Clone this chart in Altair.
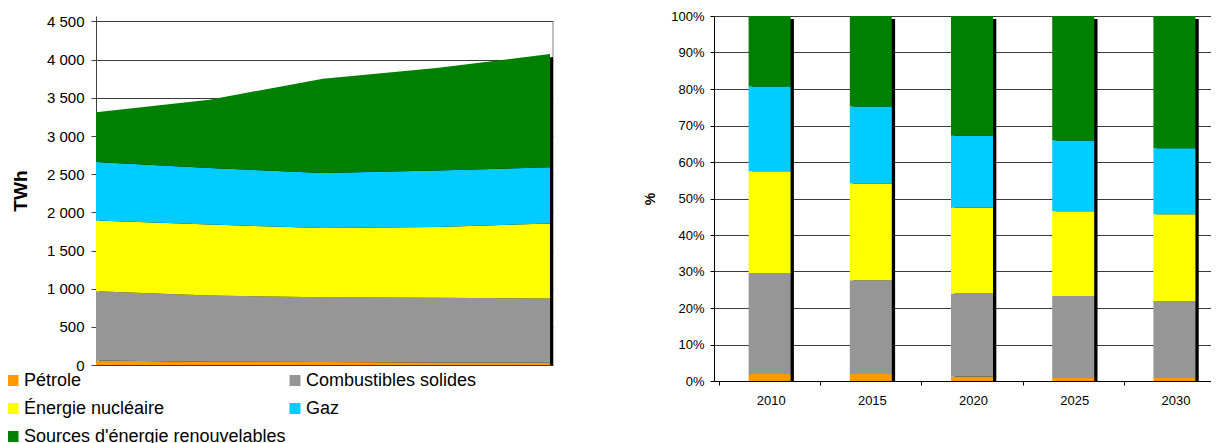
import altair as alt
import pandas as pd

years = [2010, 2015, 2020, 2025, 2030]
sources = ["Pétrole", "Combustibles solides", "Énergie nucléaire", "Gaz",
           "Sources d'énergie renouvelables"]
colors = ["#FF9900", "#969696", "#FFFF00", "#00CCFF", "#008000"]

# Left chart: production in TWh (stacked layers)
twh_petrole = [60, 45, 40, 35, 32]
twh_solides = [907, 866, 849, 846, 840]
twh_nucleaire = [926, 929, 908, 929, 981]
twh_gaz = [768, 742, 720, 737, 737]
twh_renouv = [649, 894, 1234, 1344, 1484]

# Right chart: shares in %
pct_petrole = [1.9, 1.9, 1.2, 0.8, 0.8]
pct_solides = [27.7, 25.7, 22.8, 22.5, 21.1]
pct_nucleaire = [27.9, 26.5, 23.5, 23.2, 23.8]
pct_gaz = [23.2, 21.1, 19.7, 19.4, 18.1]
pct_renouv = [19.3, 24.8, 32.8, 34.1, 36.2]

twh_ticks = list(range(0, 4501, 500))
pct_ticks = list(range(0, 101, 10))

twh_series = [twh_petrole, twh_solides, twh_nucleaire, twh_gaz, twh_renouv]
pct_series = [pct_petrole, pct_solides, pct_nucleaire, pct_gaz, pct_renouv]

rows_twh, rows_pct = [], []
for i, s in enumerate(sources):
    for j, y in enumerate(years):
        rows_twh.append({"year": y, "source": s, "idx": i, "v": twh_series[i][j]})
        rows_pct.append({"year": y, "source": s, "idx": i, "v": pct_series[i][j]})
df_twh = pd.DataFrame(rows_twh)
df_pct = pd.DataFrame(rows_pct)
df_twh_tot = df_twh.groupby("year", as_index=False)["v"].sum()
df_pct_tot = df_pct.groupby("year", as_index=False)["v"].sum()
df_frame = pd.DataFrame({"v": [max(twh_ticks)], "b": [0]})

FONT = "Liberation Sans"
# legend fills column by column: order entries so rows read like the reference
legend_order = [0, 2, 4, 1, 3]
color_scale = alt.Scale(domain=[sources[k] for k in legend_order],
                        range=[colors[k] for k in legend_order])

# ---------------- left chart ----------------
LEFT_H = 349.1
xl = alt.X("year:Q", scale=alt.Scale(domain=[2010, 2030.13], nice=False, zero=False), axis=None)
yl_scale = alt.Scale(domain=[0, 4572], nice=False)
yl_axis = alt.Axis(
    values=twh_ticks,
    labelExpr="replace(format(datum.value, ','), ',', ' ')",
    title="TWh", titleFontSize=19, titleFontWeight="bold", titlePadding=16,
    labelFontSize=15, labelPadding=7, tickSize=5,
    grid=True, gridColor="#3a3a3a", gridWidth=1,
    domainColor="#404040", tickColor="#404040",
)

left_frame = alt.Chart(df_frame).mark_rule(color="#808080").encode(
    x=alt.value(457),
    y=alt.Y("v:Q", scale=yl_scale, axis=yl_axis, title="TWh"),
    y2=alt.Y2("b:Q"),
)
left_shadow = alt.Chart(df_twh_tot).mark_area(color="black", xOffset=3, yOffset=3).encode(
    x=xl,
    y=alt.Y("v:Q", scale=yl_scale, axis=yl_axis, title="TWh"),
    y2=alt.datum(0),
)
left_area = alt.Chart(df_twh).mark_area(opacity=1).encode(
    x=xl,
    y=alt.Y("v:Q", stack="zero", scale=yl_scale, axis=yl_axis, title="TWh"),
    color=alt.Color("source:N", scale=color_scale,
                    legend=alt.Legend(
                        title=None, orient="none", legendX=-92, legendY=355.5,
                        columns=2, columnPadding=0, rowPadding=10,
                        symbolType="square", symbolSize=121, symbolStrokeWidth=0,
                        symbolOpacity=1, labelFontSize=18, labelOffset=2,
                        labelLimit=0, labelFont=FONT, labelColor="#000", padding=0)),
    order=alt.Order("idx:Q", sort="ascending"),
)
left = alt.layer(left_frame, left_shadow, left_area).properties(
    width=457, height=LEFT_H,
    view=alt.ViewBackground(stroke=None),
)

# ---------------- right chart ----------------
xr = alt.X("year:Q",
           scale=alt.Scale(domain=[2007.5, 2031.56], nice=False, zero=False),
           axis=alt.Axis(values=[y - 2.5 for y in years],
                         labelExpr="format(datum.value + 2.5, 'd')",
                         labelOffset=51.65, labelFlush=False, labelOverlap=False,
                         grid=False, tickSize=4, labelPadding=9, labelFontSize=13,
                         domainColor="#000", tickColor="#000", title=None))
yr_scale = alt.Scale(domain=[0, 100], nice=False)
yr_axis = alt.Axis(values=pct_ticks, labelExpr="datum.value + '%'",
                   title="%", titleFontSize=14, titleFontWeight="bold", titlePadding=13,
                   labelFontSize=13, labelPadding=6, tickSize=4,
                   grid=True, gridColor="#3a3a3a", gridWidth=1,
                   domainColor="#000", tickColor="#000")

right_shadow = alt.Chart(df_pct_tot).mark_bar(size=42, color="black", xOffset=3.3, yOffset=3).encode(
    x=xr,
    y=alt.Y("v:Q", scale=yr_scale, axis=yr_axis, title="%"),
    y2=alt.datum(0),
)
right_bars = alt.Chart(df_pct).mark_bar(size=42).encode(
    x=xr,
    y=alt.Y("v:Q", stack="zero", scale=yr_scale, axis=yr_axis, title="%"),
    color=alt.Color("source:N", scale=color_scale, legend=None),
    order=alt.Order("idx:Q", sort="ascending"),
)
right = alt.layer(right_shadow, right_bars).properties(
    width=497, height=365,
    view=alt.ViewBackground(stroke=None),
)

chart = alt.hconcat(left, right, spacing=89).resolve_scale(color="independent").properties(
    padding={"left": -4, "top": 2, "right": 0, "bottom": 0},
).configure_axis(
    labelFont=FONT, titleFont=FONT, labelColor="#000", titleColor="#000",
).configure_legend(labelFont=FONT).configure_title(font=FONT)

chart.save("out.html", embed_options={"renderer": "svg", "actions": False})
